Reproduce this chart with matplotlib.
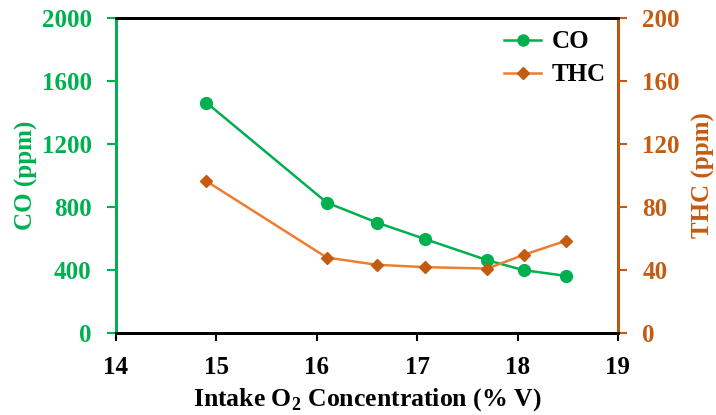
import matplotlib.pyplot as plt
from matplotlib.lines import Line2D

# data
o2 = [14.9, 16.1, 16.6, 17.08, 17.7, 18.06, 18.48]
co = [1462, 827, 700, 595, 461, 398, 362]
thc = [96.3, 47.8, 43.2, 41.7, 40.8, 49.5, 58.4]

green = '#00B050'
orange_line = '#ED7D31'
orange_mark = '#C55A11'

plt.rcParams['font.family'] = ['Liberation Serif', 'DejaVu Serif']
plt.rcParams['font.weight'] = 'bold'
plt.rcParams['mathtext.fontset'] = 'custom'
plt.rcParams['mathtext.rm'] = 'Liberation Serif:bold'
plt.rcParams['mathtext.bf'] = 'Liberation Serif:bold'

fig = plt.figure(figsize=(7.16, 4.15), dpi=100)
ax = fig.add_axes([0.162, 0.198, 0.701, 0.759])
ax2 = ax.twinx()

ax.plot(o2, co, color=green, lw=1.8, marker='o', ms=8.5, label='CO')
ax2.plot(o2, thc, color=orange_line, lw=1.8, marker='D', ms=6.5,
         mfc=orange_mark, mec=orange_mark, label='THC')

ax.set_xlim(14, 19)
ax.set_ylim(0, 2000)
ax2.set_ylim(0, 200)
ax.set_xticks([14, 15, 16, 17, 18, 19])
ax.set_yticks(range(0, 2001, 400))
ax2.set_yticks(range(0, 201, 40))

fs = 18
ax.set_xlabel('Intake O$_\\mathbf{2}$ Concentration (% V)', fontsize=18.5, fontweight='bold', labelpad=5)
ax.set_ylabel('CO (ppm)', fontsize=fs, fontweight='bold', color=green, labelpad=3)
ax2.set_ylabel('THC (ppm)', fontsize=fs, fontweight='bold', color=orange_mark, labelpad=9)

ax.tick_params(axis='x', labelsize=fs, length=6, width=1.5, pad=11)
ax.tick_params(axis='y', labelsize=fs, length=6.5, width=1.5, colors=green, pad=11)
ax2.tick_params(axis='y', labelsize=fs, length=6.5, width=1.5, colors=orange_mark, pad=11)

for a in (ax, ax2):
    for s in a.spines.values():
        s.set_linewidth(2)
ax2.spines['left'].set_color(green)
ax2.spines['right'].set_color(orange_mark)
ax.spines['left'].set_color(green)

handles = [
    Line2D([], [], color=green, lw=1.8, marker='o', ms=8),
    Line2D([], [], color=orange_line, lw=1.8, marker='D', ms=6, mfc=orange_mark, mec=orange_mark),
]
ax.legend(handles, ['CO', 'THC'], loc='upper right', frameon=False,
          prop={'size': fs, 'weight': 'bold'}, handlelength=1.5, handletextpad=0.4,
          labelspacing=0.4, borderaxespad=0.1)

fig.savefig('out.png', dpi=100)
